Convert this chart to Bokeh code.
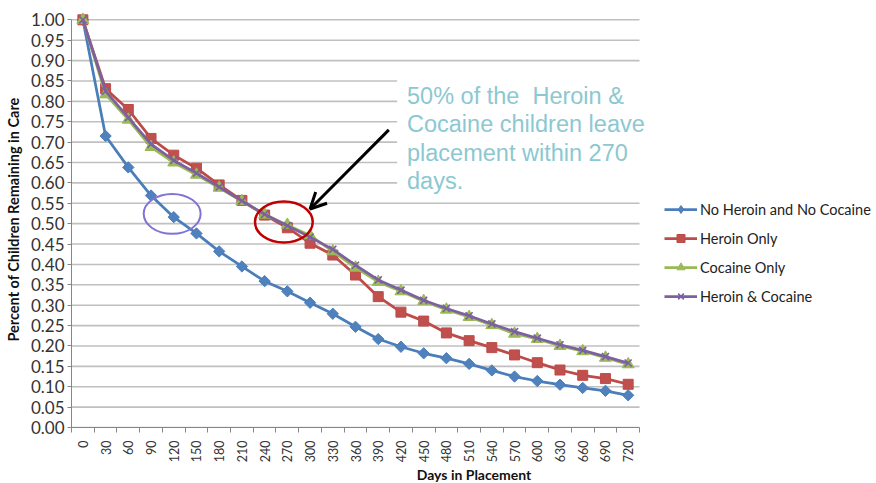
import numpy as np
from bokeh.plotting import figure
from bokeh.models import (Range1d, FixedTicker, NumeralTickFormatter, Label, Arrow,
                          OpenHead, BoxAnnotation, Legend, LegendItem)
from bokeh.embed import file_html
from bokeh.resources import INLINE

# ---------------- data ----------------
days = [0, 30, 60, 90, 120, 150, 180, 210, 240, 270, 300, 330, 360, 390, 420,
        450, 480, 510, 540, 570, 600, 630, 660, 690, 720]

no_heroin_no_cocaine = [1.000, 0.715, 0.638, 0.569, 0.516, 0.476, 0.432, 0.395, 0.359,
                        0.334, 0.306, 0.279, 0.247, 0.217, 0.198, 0.182, 0.170, 0.156,
                        0.140, 0.125, 0.114, 0.105, 0.097, 0.090, 0.079]
heroin_only = [1.000, 0.831, 0.780, 0.709, 0.668, 0.636, 0.595, 0.557, 0.521, 0.490,
               0.452, 0.423, 0.374, 0.321, 0.283, 0.261, 0.232, 0.213, 0.196, 0.178,
               0.159, 0.141, 0.128, 0.120, 0.106]
cocaine_only = [1.000, 0.817, 0.755, 0.688, 0.650, 0.620, 0.588, 0.555, 0.522, 0.497,
                0.471, 0.432, 0.392, 0.357, 0.334, 0.310, 0.289, 0.271, 0.251, 0.230,
                0.217, 0.200, 0.187, 0.171, 0.155]
heroin_and_cocaine = [1.000, 0.825, 0.760, 0.695, 0.655, 0.624, 0.590, 0.556, 0.523,
                      0.495, 0.467, 0.437, 0.398, 0.362, 0.337, 0.312, 0.292, 0.274,
                      0.254, 0.235, 0.219, 0.203, 0.189, 0.174, 0.158]

series_names = ["No Heroin and No Cocaine", "Heroin Only", "Cocaine Only", "Heroin & Cocaine"]

y_ticks = [0.00, 0.05, 0.10, 0.15, 0.20, 0.25, 0.30, 0.35, 0.40, 0.45, 0.50, 0.55,
           0.60, 0.65, 0.70, 0.75, 0.80, 0.85, 0.90, 0.95, 1.00]
x_boundaries = [-15, 15, 45, 75, 105, 135, 165, 195, 225, 255, 285, 315, 345, 375, 405,
                435, 465, 495, 525, 555, 585, 615, 645, 675, 705, 735]

annotation_lines = ["50% of the\u00a0 Heroin &", "Cocaine children leave",
                    "placement within 270", "days."]

X_LO, X_HI = -15, 735          # category band of the chart
X_VIEW_END = 1047.9            # frame extends right to hold legend/annotation
OFF_VIEW = [5000]              # legend swatch renderers live outside the view

# ---------------- figure ----------------
p = figure(frame_width=805, frame_height=416,
           min_border_left=71, min_border_right=0, min_border_top=11, min_border_bottom=56,
           x_range=Range1d(X_LO, X_VIEW_END), y_range=Range1d(0, 1.0204),
           output_backend="svg", toolbar_location=None)
p.outline_line_color = None
p.background_fill_color = "white"
p.border_fill_color = "white"

p.xgrid.visible = False
p.ygrid.visible = False

# horizontal gridlines limited to the chart's category band
p.segment(x0=[X_LO] * len(y_ticks), x1=[X_HI] * len(y_ticks), y0=y_ticks, y1=y_ticks,
          line_color="#c0c0c0", line_width=1.6)

ax = p.yaxis[0]
ax.ticker = FixedTicker(ticks=y_ticks)
ax.formatter = NumeralTickFormatter(format="0.00")
ax.bounds = (0, 1)
ax.axis_line_color = "#868686"
ax.major_tick_line_color = "#868686"
ax.major_tick_out = 4
ax.major_tick_in = 0
ax.minor_tick_line_color = None
ax.major_label_text_font = "Lato"
ax.major_label_text_font_size = "17px"
ax.major_label_text_color = "#333333"
ax.major_label_standoff = 3
ax.axis_label = "Percent of Children Remaining in Care"
ax.axis_label_text_font = "Lato"
ax.axis_label_text_font_style = "bold"
ax.axis_label_text_font_size = "14.5px"
ax.axis_label_text_color = "#111111"
ax.axis_label_standoff = 6

bx = p.xaxis[0]
bx.ticker = FixedTicker(ticks=days, minor_ticks=x_boundaries)
bx.bounds = (X_LO, X_HI)
bx.axis_line_color = "#868686"
bx.major_tick_line_color = None
bx.major_tick_out = 0
bx.major_tick_in = 0
bx.minor_tick_line_color = "#868686"
bx.minor_tick_out = 5
bx.minor_tick_in = 0
bx.major_label_orientation = np.pi / 2
bx.major_label_text_font = "Lato"
bx.major_label_text_font_size = "12.5px"
bx.major_label_text_color = "#333333"
bx.major_label_standoff = 8
bx.axis_label = "Days in Placement"
bx.axis_label_text_font = "Lato"
bx.axis_label_text_font_style = "bold"
bx.axis_label_text_font_size = "14px"
bx.axis_label_text_color = "#111111"
bx.axis_label_standoff = 1

# ---------------- series ----------------
styles = [
    dict(color="#4a7ebb", fill="#4f81bd", marker="square", size=8, angle=np.pi / 4,
         lmarker="diamond", lsize=11),
    dict(color="#be4b48", fill="#c0504d", marker="square", size=10, angle=0,
         lmarker="square", lsize=8),
    dict(color="#98b954", fill="#9bbb59", marker="triangle", size=12, angle=0,
         lmarker="triangle", lsize=9),
    dict(color="#7d60a0", fill="#8064a2", marker="x", size=10, angle=0,
         lmarker="x", lsize=8),
]
all_series = [no_heroin_no_cocaine, heroin_only, cocaine_only, heroin_and_cocaine]

items = []
for name, vals, st in zip(series_names, all_series, styles):
    lw = 1.6 if st["marker"] == "x" else 1
    p.line(days, vals, line_color=st["color"], line_width=2.75)
    p.scatter(days, vals, marker=st["marker"], size=st["size"], angle=st["angle"],
              fill_color=st["fill"], line_color=st["color"], line_width=lw)
    # legend-only swatches (placed outside the visible range)
    llr = p.line(OFF_VIEW, OFF_VIEW, line_color=st["color"], line_width=2.75)
    lsr = p.scatter(OFF_VIEW, OFF_VIEW, marker=st["lmarker"], size=st["lsize"],
                    fill_color=st["fill"], line_color=st["color"], line_width=lw)
    items.append(LegendItem(label=name, renderers=[llr, lsr]))

legend = Legend(items=items, location=(593, 121), padding=0, margin=0, spacing=9,
                glyph_width=33, glyph_height=20, label_height=20, label_standoff=3,
                border_line_color=None, background_fill_alpha=0,
                label_text_font="Lato", label_text_font_size="14.5px",
                label_text_color="#222222")
p.add_layout(legend)

# ---------------- annotations ----------------
p.ellipse(x=117.9, y=0.524, width=75.2, height=0.098, fill_color=None,
          line_color="#7f74d4", line_width=2)
p.ellipse(x=265.4, y=0.504, width=76.2, height=0.1006, fill_color=None,
          line_color="#c00000", line_width=2.5)

# white text box hiding the gridlines behind the note
p.add_layout(BoxAnnotation(left=415, right=X_HI + 2, bottom=0.57, top=0.88,
                           fill_color="white", fill_alpha=1, line_color=None))

p.add_layout(Arrow(end=OpenHead(size=16, line_width=3, line_color="black"),
                   x_start=404, y_start=0.730, x_end=300, y_end=0.536,
                   line_width=3, line_color="black"))

line_y = [0.8136, 0.7437, 0.6738, 0.6039]
for txt, yy in zip(annotation_lines, line_y):
    p.add_layout(Label(x=428, y=yy, text=txt, text_font="Liberation Sans",
                       text_font_size="23.5px", text_color="#8cc8d1",
                       text_baseline="alphabetic", text_align="left"))

open("out.html", "w").write(file_html(p, INLINE))
